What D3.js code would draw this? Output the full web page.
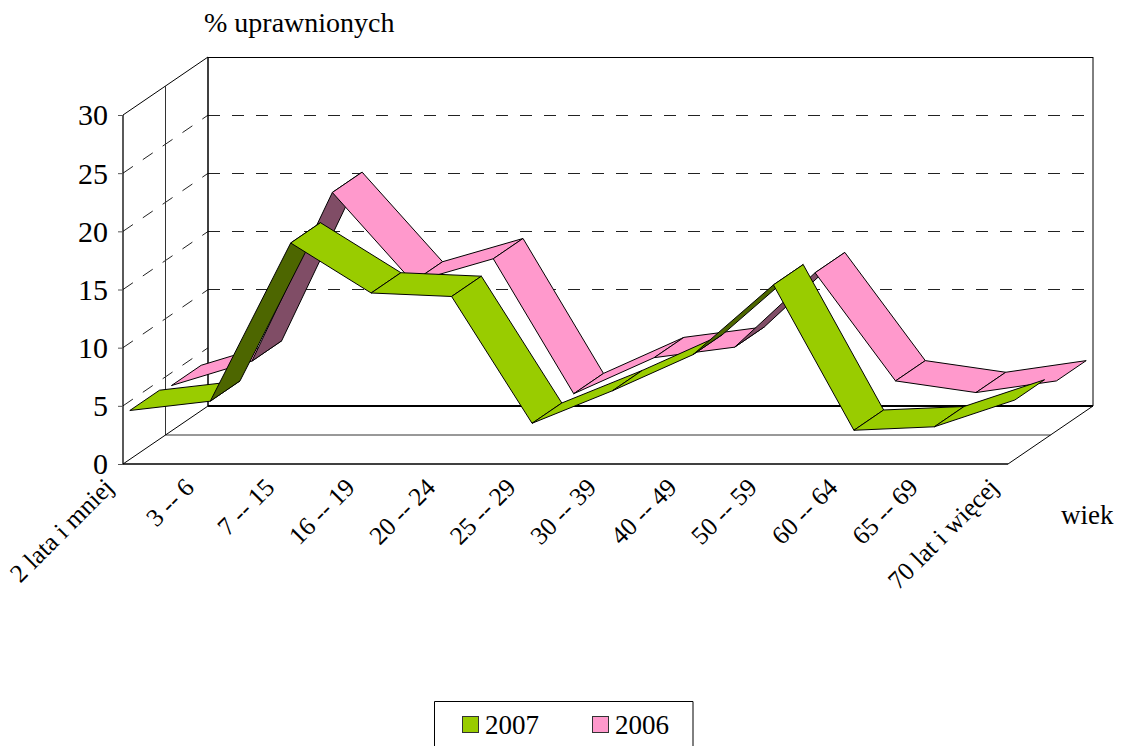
<!DOCTYPE html>
<html><head><meta charset="utf-8">
<script src="https://cdn.jsdelivr.net/npm/d3@7"></script>
<style>html,body{margin:0;padding:0;background:#fff;overflow:hidden}
text{font-family:"Liberation Serif","Times New Roman",serif;fill:#000}</style>
</head><body><svg id="c" width="1121" height="746"></svg>
<script>
const categories=["2 lata i mniej","3 -- 6","7 -- 15","16 -- 19","20 -- 24","25 -- 29","30 -- 39","40 -- 49","50 -- 59","60 -- 64","65 -- 69","70 lat i więcej"];
const values2007=[4.2,5.0,18.6,14.3,14.0,3.1,5.9,9.0,15.0,2.5,2.8,5.1];
const values2006=[3.9,6.0,20.5,12.8,14.8,3.2,6.3,7.2,13.6,4.3,3.3,4.3];
const yTicks=[0,5,10,15,20,25,30];
const seriesNames=["2007","2006"];
const fills=["#99CC00","#FF99CC"];
const darks=["#4D6600","#804D66"];

const svg=d3.select("#c");
const x=d3.scalePoint().domain(categories).range([123,1008]);
const y=d3.scaleLinear().domain([0,30]).range([464,115]);
const DX=85,DY=58;
const P=(c,v,d)=>[x(c)+d*DX,y(v)-d*DY];
const snap=p=>[p[0],Math.floor(p[1])+0.5];
const poly=(g,pts,fill,stroke,w)=>g.append("polygon").attr("points",pts.map(p=>p.join(",")).join(" ")).attr("fill",fill).attr("stroke",stroke||"none").attr("stroke-width",w||1).attr("stroke-linejoin","round");
const line=(g,a,b,o={})=>g.append("line").attr("x1",a[0]).attr("y1",a[1]).attr("x2",b[0]).attr("y2",b[1]).attr("stroke",o.c||"#000").attr("stroke-width",o.w||1).attr("stroke-dasharray",o.dash||null);

const first=categories[0],last=categories[categories.length-1];
const frame=svg.append("g");
// gridlines
yTicks.filter(t=>t>0&&t<30).forEach(t=>{
  line(frame,P(first,t,0),P(first,t,1),{dash:"12 12",c:"#222"});
});
yTicks.filter(t=>t>=10).forEach(t=>{
  line(frame,snap(P(first,t,1)),snap(P(last,t,1)),{dash:"12 12",c:"#222"});
});
// walls & floor
line(frame,snap(P(first,30,1)),snap(P(last,30,1)));
line(frame,P(first,30,0),P(first,30,1));
line(frame,P(first,0,1),P(first,30,1),{w:1.5});
line(frame,P(last,0,1),P(last,30,1));
line(frame,P(first,0,0.5),P(first,30,0.5),{c:"#333"});
line(frame,P(first,0,0.5),P(last,0,0.5),{c:"#333"});
line(frame,P(first,0,1),P(last,0,1),{w:2});
line(frame,P(first,0,0),P(last,0,0),{w:1.5});
line(frame,P(first,0,0),P(first,0,1));
line(frame,P(last,0,0),P(last,0,1));

// y axis
const axis=svg.append("g").attr("transform","translate(123,0)").call(d3.axisLeft(y).tickValues(yTicks).tickSize(5).tickPadding(10));
axis.selectAll("text").style("font-size","30px").style("font-family",'"Liberation Serif"').attr("fill","#000").attr("dy","0.33em");
axis.selectAll("line").attr("stroke","#555");
axis.select(".domain").attr("stroke","#000").attr("stroke-width",1.3).attr("d","M0,"+y(30)+"V"+y(0));

// ribbons, back series first
const depths=[[0.08,0.43],[0.57,0.92]];
[[values2006,1],[values2007,0]].forEach(([vals,s])=>{
  const g=svg.append("g");
  const [d0,d1]=depths[s];
  for(let i=0;i<vals.length-1;i++){
    const a=P(categories[i],vals[i],d0),b=P(categories[i+1],vals[i+1],d0);
    const c=P(categories[i+1],vals[i+1],d1),e=P(categories[i],vals[i],d1);
    const slope=(b[1]-a[1])/(b[0]-a[0]);
    const under=slope<-DY/DX;
    poly(g,[a,b,c,e],under?darks[s]:fills[s],"#000",1);
  }
});

// category labels
svg.append("g").selectAll("text").data(categories).join("text")
  .attr("text-anchor","end").style("font-size","25.5px")
  .attr("transform",d=>`translate(${x(d)-8},489) rotate(-45)`)
  .text(d=>d);

svg.append("text").attr("x",204).attr("y",32).style("font-size","28px").text("% uprawnionych");
svg.append("text").attr("x",1061).attr("y",524).style("font-size","27px").text("wiek");

// legend
const lg=svg.append("g");
lg.append("path").attr("d","M434.5,746V701.5H693V746").attr("fill","#fff").attr("stroke","#000").attr("stroke-width",1);
const legX=d3.scalePoint().domain(seriesNames).range([462,592]);
seriesNames.forEach((n,i)=>{
  lg.append("rect").attr("x",legX(n)+.5).attr("y",716.5).attr("width",16).attr("height",16).attr("fill",fills[i]).attr("stroke","#333");
  lg.append("text").attr("x",legX(n)+23).attr("y",734).style("font-size","27px").text(n);
});
</script></body></html>
